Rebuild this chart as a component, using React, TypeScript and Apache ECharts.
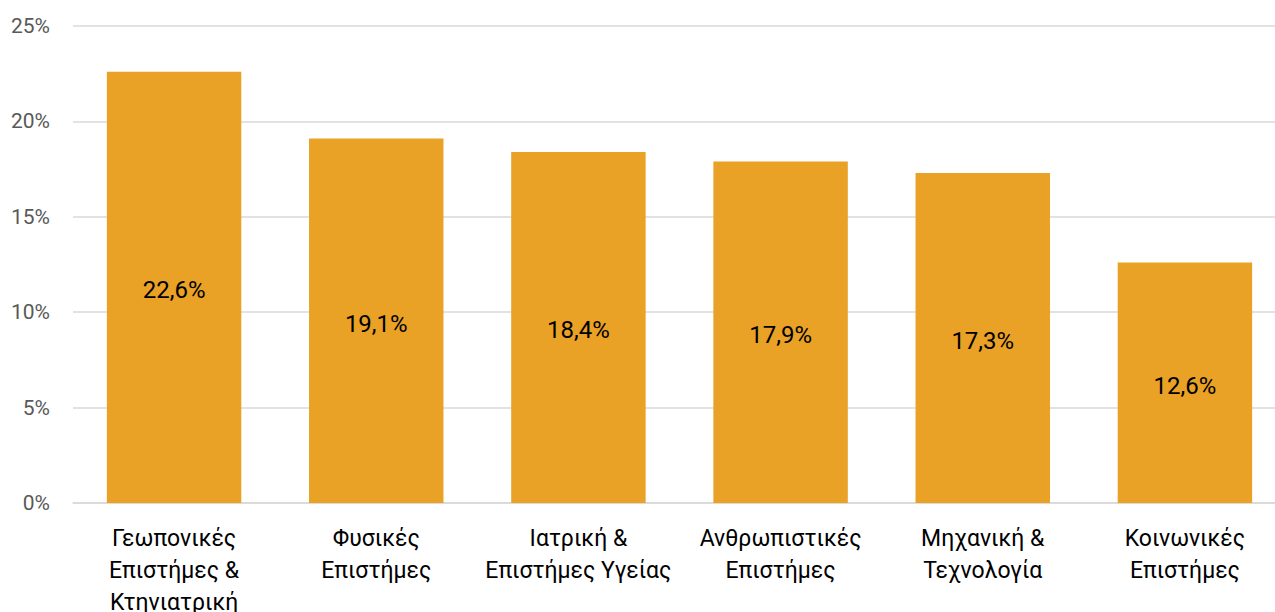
import React, { useEffect, useRef } from "react";
import * as echarts from "echarts";

const categories = [
  "Γεωπονικές\nΕπιστήμες &\nΚτηνιατρική",
  "Φυσικές\nΕπιστήμες",
  "Ιατρική &\nΕπιστήμες Υγείας",
  "Ανθρωπιστικές\nΕπιστήμες",
  "Μηχανική &\nΤεχνολογία",
  "Κοινωνικές\nΕπιστήμες",
];
const values = [22.6, 19.1, 18.4, 17.9, 17.3, 12.6];

const FONT = "Roboto, 'DejaVu Sans', sans-serif";

export default function App() {
  const ref = useRef<HTMLDivElement>(null);
  useEffect(() => {
    if (!ref.current) return;
    const chart = echarts.init(ref.current, null, { renderer: "svg" });
    chart.setOption({
      animation: false,
      grid: {
        left: 73,
        top: 26,
        width: 1213,
        bottom: 109,
        containLabel: false,
        outerBoundsMode: "none",
      },
      xAxis: {
        type: "category",
        data: categories,
        axisTick: { show: false },
        axisLine: { show: true, lineStyle: { color: "#d9d9d9", width: 1.5 } },
        axisLabel: {
          color: "#000",
          fontSize: 23,
          fontFamily: FONT,
          lineHeight: 32,
          margin: 19,
          interval: 0,
        },
      },
      yAxis: {
        type: "value",
        min: 0,
        max: 25,
        interval: 5,
        axisLine: { show: false },
        axisTick: { show: false },
        splitLine: { lineStyle: { color: "#d9d9d9", width: 1.5 } },
        axisLabel: {
          color: "#595959",
          fontSize: 21,
          fontFamily: FONT,
          margin: 23,
          formatter: (v: number) => `${v}%`,
        },
      },
      series: [
        {
          type: "bar",
          data: values,
          barCategoryGap: "33.5%",
          itemStyle: { color: "#E9A126" },
          label: {
            show: true,
            position: "inside",
            offset: [0, 3],
            color: "#000",
            fontSize: 24,
            fontFamily: FONT,
            formatter: (p: any) => `${p.value.toFixed(1).replace(".", ",")}%`,
          },
        },
      ],
    });
    return () => chart.dispose();
  }, []);
  return (
    <div style={{ position: "absolute", left: 0, top: 0, width: 1275, height: 612, overflow: "hidden" }}>
      <div ref={ref} style={{ width: 1290, height: 612 }} />
    </div>
  );
}
